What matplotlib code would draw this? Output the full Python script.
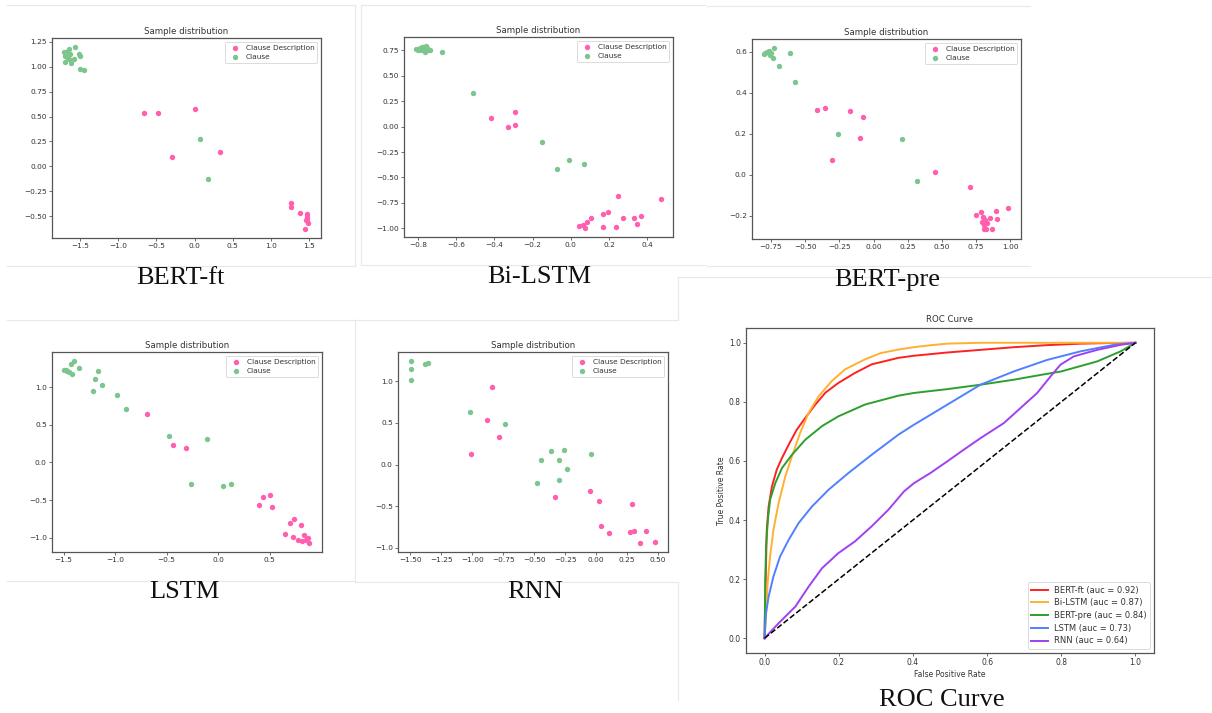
import matplotlib
matplotlib.use("Agg")
import matplotlib.pyplot as plt
from matplotlib.lines import Line2D

W, H = 1212, 713

# ---------------- data ----------------
labels = ["Clause Description", "Clause"]
captions = ["BERT-ft", "Bi-LSTM", "BERT-pre", "LSTM", "RNN", "ROC Curve"]

# BERT-ft
bertft_desc_x = [-0.657, -0.482, 0.004, -0.293, 0.333, 1.270, 1.270, 1.380, 1.480, 1.472, 1.459, 1.494, 1.445, 1.480]
bertft_desc_y = [0.540, 0.540, 0.573, 0.094, 0.144, -0.369, -0.409, -0.469, -0.476, -0.510, -0.543, -0.570, -0.630, -0.526]
bertft_cl_x = [-1.717, -1.695, -1.673, -1.651, -1.629, -1.616, -1.586, -1.564, -1.520, -1.498, -1.498, -1.445, -1.704, -1.643, -1.682, 0.066, 0.175]
bertft_cl_y = [1.150, 1.049, 1.100, 1.183, 1.133, 1.039, 1.083, 1.200, 1.126, 1.110, 0.982, 0.965, 1.106, 1.083, 1.150, 0.278, -0.124]
bertft_xticks = [-1.5, -1.0, -0.5, 0.0, 0.5, 1.0, 1.5]
bertft_yticks = [-0.50, -0.25, 0.00, 0.25, 0.50, 0.75, 1.00, 1.25]

# Bi-LSTM
bilstm_desc_x = [-0.416, -0.291, -0.329, -0.291, 0.247, 0.470, 0.166, 0.196, 0.104, 0.274, 0.332, 0.370, 0.346, 0.084, 0.041, 0.063, 0.074, 0.171, 0.236]
bilstm_desc_y = [0.088, 0.144, -0.007, 0.019, -0.682, -0.715, -0.862, -0.836, -0.895, -0.895, -0.901, -0.879, -0.954, -0.938, -0.974, -0.967, -0.997, -0.987, -0.990]
bilstm_cl_x = [-0.809, -0.791, -0.783, -0.774, -0.765, -0.757, -0.748, -0.751, -0.739, -0.765, -0.800, -0.779, -0.673, -0.512, -0.153, -0.010, 0.067, -0.074]
bilstm_cl_y = [0.767, 0.773, 0.757, 0.780, 0.763, 0.790, 0.750, 0.773, 0.757, 0.737, 0.757, 0.783, 0.731, 0.334, -0.148, -0.328, -0.367, -0.413]
bilstm_xticks = [-0.8, -0.6, -0.4, -0.2, 0.0, 0.2, 0.4]
bilstm_yticks = [-1.00, -0.75, -0.50, -0.25, 0.00, 0.25, 0.50, 0.75]

# BERT-pre
bertpre_desc_x = [-0.414, -0.358, -0.172, -0.075, -0.099, -0.304, 0.449, 0.705, 0.981, 0.893, 0.900, 0.752, 0.788, 0.800, 0.793, 0.817, 0.829, 0.849, 0.805, 0.866, 0.825, 0.810]
bertpre_desc_y = [0.314, 0.327, 0.309, 0.280, 0.180, 0.073, 0.015, -0.059, -0.163, -0.177, -0.215, -0.197, -0.180, -0.205, -0.229, -0.221, -0.237, -0.213, -0.267, -0.267, -0.267, -0.246]
bertpre_cl_x = [-0.798, -0.779, -0.762, -0.747, -0.738, -0.726, -0.694, -0.608, -0.574, -0.260, 0.205, 0.320, -0.791, -0.755]
bertpre_cl_y = [0.587, 0.600, 0.603, 0.592, 0.571, 0.620, 0.530, 0.592, 0.454, 0.197, 0.172, -0.029, 0.595, 0.584]
bertpre_xticks = [-0.75, -0.50, -0.25, 0.00, 0.25, 0.50, 0.75, 1.00]
bertpre_yticks = [-0.2, 0.0, 0.2, 0.4, 0.6]

# LSTM
lstm_desc_x = [-0.688, -0.443, -0.316, 0.397, 0.436, 0.501, 0.520, 0.652, 0.700, 0.739, 0.807, 0.726, 0.775, 0.814, 0.830, 0.853, 0.885, 0.869]
lstm_desc_y = [0.638, 0.232, 0.188, -0.559, -0.453, -0.435, -0.594, -0.947, -0.806, -0.753, -0.837, -0.991, -1.035, -1.040, -0.962, -1.029, -1.064, -1.007]
lstm_cl_x = [-1.494, -1.468, -1.445, -1.429, -1.397, -1.419, -1.351, -1.163, -1.196, -1.131, -1.215, -0.982, -0.892, -0.481, -0.109, -0.261, 0.044, 0.128, -1.474]
lstm_cl_y = [1.234, 1.212, 1.203, 1.313, 1.344, 1.172, 1.256, 1.216, 1.110, 1.031, 0.947, 0.903, 0.713, 0.347, 0.307, -0.285, -0.316, -0.285, 1.234]
lstm_xticks = [-1.5, -1.0, -0.5, 0.0, 0.5]
lstm_yticks = [-1.0, -0.5, 0.0, 0.5, 1.0]

# RNN
rnn_desc_x = [-0.843, -0.878, -0.784, -1.013, -0.335, -0.047, 0.024, 0.042, 0.101, 0.292, 0.276, 0.308, 0.402, 0.354, 0.478]
rnn_desc_y = [0.928, 0.538, 0.331, 0.131, -0.394, -0.315, -0.438, -0.733, -0.825, -0.470, -0.805, -0.797, -0.797, -0.936, -0.928]
rnn_cl_x = [-1.497, -1.492, -1.497, -1.384, -1.357, -1.021, -0.738, -0.364, -0.257, -0.442, -0.299, -0.232, -0.041, -0.480, -0.299]
rnn_cl_y = [1.243, 1.151, 1.020, 1.211, 1.219, 0.637, 0.490, 0.167, 0.175, 0.052, 0.052, -0.056, 0.124, -0.223, -0.179]
rnn_xticks = [-1.50, -1.25, -1.00, -0.75, -0.50, -0.25, 0.00, 0.25, 0.50]
rnn_yticks = [-1.0, -0.5, 0.0, 0.5, 1.0]

# ROC curves
roc_names = ["BERT-ft", "Bi-LSTM", "BERT-pre", "LSTM", "RNN"]
roc_auc = [0.92, 0.87, 0.84, 0.73, 0.64]
fpr_bertft = [0.0, 0.002, 0.004, 0.006, 0.011, 0.020, 0.033, 0.047, 0.065, 0.087, 0.110, 0.137, 0.164, 0.199, 0.244, 0.289, 0.361, 0.402, 0.492, 0.582, 0.672, 0.762, 0.852, 0.930, 1.0]
tpr_bertft = [0.0, 0.141, 0.254, 0.367, 0.446, 0.514, 0.571, 0.610, 0.655, 0.706, 0.746, 0.791, 0.831, 0.864, 0.898, 0.927, 0.949, 0.956, 0.967, 0.976, 0.985, 0.992, 0.997, 0.999, 1.0]
fpr_bilstm = [0.0, 0.004, 0.009, 0.015, 0.024, 0.038, 0.056, 0.074, 0.096, 0.119, 0.146, 0.181, 0.217, 0.271, 0.313, 0.361, 0.402, 0.450, 0.492, 0.582, 0.700, 1.0]
tpr_bilstm = [0.0, 0.085, 0.198, 0.277, 0.367, 0.458, 0.548, 0.616, 0.695, 0.763, 0.819, 0.870, 0.910, 0.944, 0.965, 0.977, 0.985, 0.992, 0.997, 1.0, 1.0, 1.0]
fpr_bertpre = [0.0, 0.002, 0.004, 0.009, 0.015, 0.029, 0.047, 0.074, 0.110, 0.155, 0.199, 0.271, 0.361, 0.402, 0.492, 0.582, 0.672, 0.762, 0.800, 0.897, 0.960, 1.0]
tpr_bertpre = [0.0, 0.198, 0.311, 0.401, 0.469, 0.525, 0.576, 0.621, 0.672, 0.718, 0.751, 0.791, 0.821, 0.830, 0.843, 0.858, 0.875, 0.895, 0.903, 0.937, 0.971, 1.0]
fpr_lstm = [0.0, 0.004, 0.011, 0.024, 0.042, 0.065, 0.092, 0.128, 0.173, 0.226, 0.289, 0.361, 0.402, 0.492, 0.582, 0.672, 0.762, 0.852, 0.942, 1.0]
tpr_lstm = [0.0, 0.085, 0.141, 0.209, 0.277, 0.333, 0.390, 0.446, 0.503, 0.559, 0.621, 0.689, 0.722, 0.790, 0.858, 0.903, 0.942, 0.971, 0.993, 1.0]
fpr_rnn = [0.0, 0.038, 0.083, 0.119, 0.155, 0.199, 0.244, 0.289, 0.334, 0.376, 0.403, 0.447, 0.492, 0.537, 0.582, 0.645, 0.690, 0.735, 0.771, 0.798, 0.834, 0.897, 0.960, 1.0]
tpr_rnn = [0.0, 0.051, 0.107, 0.175, 0.237, 0.288, 0.328, 0.379, 0.435, 0.497, 0.525, 0.559, 0.598, 0.638, 0.677, 0.728, 0.779, 0.830, 0.886, 0.926, 0.954, 0.976, 0.993, 1.0]
roc_ticks = [0.0, 0.2, 0.4, 0.6, 0.8, 1.0]

# ---------------- styling ----------------
PINK = "#ff5fae"
GREEN = "#7cc68e"
ROC_COLORS = ["#ff2020", "#ffb030", "#2ca02c", "#5080ff", "#a040f0"]
SPINE = "#555555"
TXT = "#333333"

fig = plt.figure(figsize=(W / 100, H / 100), dpi=100)
fig.patch.set_facecolor("white")


def rect(l, r, t, b):
    return [l / W, 1 - b / H, (r - l) / W, (b - t) / H]


def style(ax, fs=5.3):
    for s in ax.spines.values():
        s.set_color(SPINE)
        s.set_linewidth(0.9)
    ax.tick_params(labelsize=fs, colors=SPINE, labelcolor=TXT, length=2.2, width=0.6, pad=1.5)


def scatter_panel(r, dx, dy, cx, cy, xl, yl, xt, yt):
    ax = fig.add_axes(r)
    ax.scatter(dx, dy, s=15, color=PINK, label=labels[0], linewidths=0)
    ax.scatter(cx, cy, s=15, color=GREEN, label=labels[1], linewidths=0)
    ax.set_xlim(*xl)
    ax.set_ylim(*yl)
    ax.set_xticks(xt)
    ax.set_yticks(yt)
    ax.set_title("Sample distribution", fontsize=6.2, color=TXT, pad=3)
    style(ax)
    leg = ax.legend(loc="upper right", fontsize=5.3, frameon=True, borderpad=0.4,
                    handletextpad=0.4, labelspacing=0.4, markerscale=1.0, scatterpoints=1)
    leg.get_frame().set_linewidth(0.6)
    for t in leg.get_texts():
        t.set_color(TXT)
    return ax


scatter_panel(rect(52, 321, 38, 238), bertft_desc_x, bertft_desc_y, bertft_cl_x, bertft_cl_y,
              (-1.87, 1.66), (-0.72, 1.29), bertft_xticks, bertft_yticks)
scatter_panel(rect(404, 673, 37, 237), bilstm_desc_x, bilstm_desc_y, bilstm_cl_x, bilstm_cl_y,
              (-0.873, 0.535), (-1.085, 0.881), bilstm_xticks, bilstm_yticks)
scatter_panel(rect(752, 1021, 39, 239), bertpre_desc_x, bertpre_desc_y, bertpre_cl_x, bertpre_cl_y,
              (-0.889, 1.078), (-0.314, 0.662), bertpre_xticks, bertpre_yticks)
scatter_panel(rect(52, 322, 352, 552), lstm_desc_x, lstm_desc_y, lstm_cl_x, lstm_cl_y,
              (-1.613, 1.008), (-1.19, 1.468), lstm_xticks, lstm_yticks)
scatter_panel(rect(398, 668, 352, 552), rnn_desc_x, rnn_desc_y, rnn_cl_x, rnn_cl_y,
              (-1.60, 0.581), (-1.048, 1.351), rnn_xticks, rnn_yticks)

# ROC panel
ax = fig.add_axes(rect(746, 1154, 328, 653))
roc_fpr = [fpr_bertft, fpr_bilstm, fpr_bertpre, fpr_lstm, fpr_rnn]
roc_tpr = [tpr_bertft, tpr_bilstm, tpr_bertpre, tpr_lstm, tpr_rnn]
for f, t, n, a, c in zip(roc_fpr, roc_tpr, roc_names, roc_auc, ROC_COLORS):
    ax.plot(f, t, color=c, lw=1.4, label=f"{n} (auc = {a:.2f})", solid_joinstyle="round")
ax.plot([0, 1], [0, 1], "k--", lw=1.1)
ax.set_xlim(-0.05, 1.05)
ax.set_ylim(-0.05, 1.05)
ax.set_xticks(roc_ticks)
ax.set_yticks(roc_ticks)
ax.set_title("ROC Curve", fontsize=6.2, color=TXT, pad=4)
ax.set_xlabel("False Positive Rate", fontsize=5.5, color=TXT, labelpad=2)
ax.set_ylabel("True Positive Rate", fontsize=5.5, color=TXT, labelpad=2)
style(ax, 5.5)
leg = ax.legend(loc="lower right", fontsize=6.0, borderpad=0.4, handlelength=2.0,
                labelspacing=0.45, handletextpad=0.7)
leg.get_frame().set_linewidth(0.6)
for t in leg.get_texts():
    t.set_color(TXT)

# captions
cap_pos = [(180, 278), (539, 277), (887, 280), (184, 592), (535, 592), (942, 700)]
for txt, (x, y) in zip(captions, cap_pos):
    fig.text(x / W, 1 - y / H, txt, ha="center", va="center", fontsize=19,
             family="Liberation Serif", color="#111111")

# light screenshot borders
GRAY = "#e8e8e8"
segs = [
    ((7, 355), (5, 5)), ((7, 355), (266, 266)), ((355, 355), (5, 266)),
    ((361, 361), (5, 265)), ((361, 705), (5, 5)), ((361, 705), (265, 265)),
    ((707, 1030), (6, 6)), ((707, 1030), (266, 266)), ((678, 1212), (277, 277)),
    ((7, 678), (320, 320)), ((7, 355), (581, 581)), ((355, 678), (582, 582)),
    ((678, 678), (277, 320)), ((678, 678), (582, 700)), ((355, 355), (320, 582)),
]
for (x0, x1), (y0, y1) in segs:
    fig.add_artist(Line2D([x0 / W, x1 / W], [1 - y0 / H, 1 - y1 / H],
                          transform=fig.transFigure, color=GRAY, lw=0.8, zorder=-1))

fig.savefig("out.png", dpi=100, facecolor="white")
